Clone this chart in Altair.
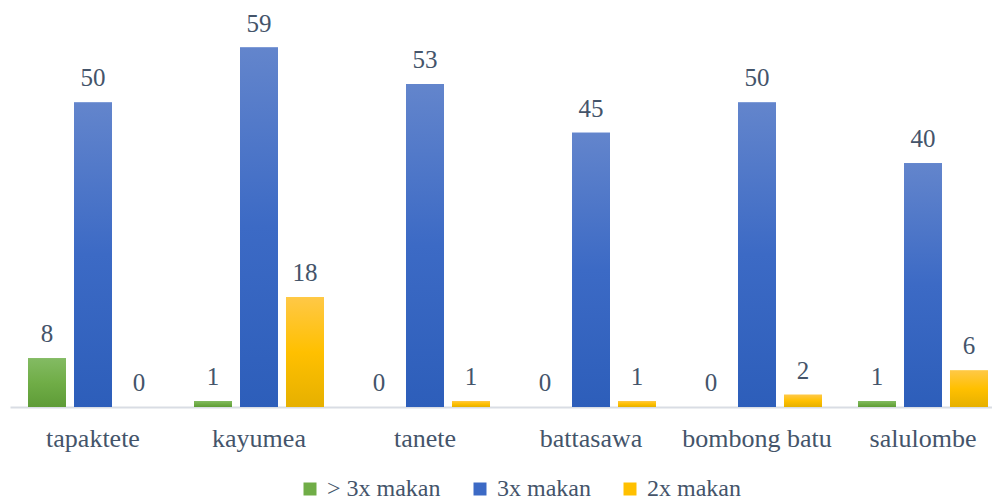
import altair as alt
import pandas as pd

# Villages and meal-frequency counts
villages = ["tapaktete", "kayumea", "tanete", "battasawa", "bombong batu", "salulombe"]
series = ["> 3x makan", "3x makan", "2x makan"]
more_than_three = [8, 1, 0, 0, 0, 1]
three_meals = [50, 59, 53, 45, 50, 40]
two_meals = [0, 18, 1, 1, 2, 6]

rows = []
for name, values in zip(series, [more_than_three, three_meals, two_meals]):
    for v, n in zip(villages, values):
        rows.append({"desa": v, "seri": name, "nilai": n})
df = pd.DataFrame(rows)

FONT = "'Liberation Serif', 'Times New Roman', serif"
TEXT = "#44546A"
solid = ["#70AD47", "#3C6AC5", "#FFC000"]


def grad(top, mid, bottom):
    return alt.LinearGradient(
        gradient="linear", x1=0, y1=0, x2=0, y2=1,
        stops=[alt.GradientStop(color=top, offset=0),
               alt.GradientStop(color=mid, offset=0.5),
               alt.GradientStop(color=bottom, offset=1)],
    )


gradients = [
    grad("#83BB63", "#70AD47", "#5E9C37"),
    grad("#6385CC", "#3C6AC5", "#2D5EBA"),
    grad("#FFC846", "#FFC000", "#E6B000"),
]

x_enc = alt.X(
    "desa:N", sort=villages, title=None,
    scale=alt.Scale(range=[0, 996], paddingInner=0.217, paddingOuter=0.1085),
    axis=alt.Axis(domain=True, domainColor="#D9DDE4", domainWidth=2,
                  ticks=False, grid=False, labelAngle=0,
                  labelFont=FONT, labelFontSize=26, labelColor=TEXT,
                  labelPadding=18),
)
xoff_enc = alt.XOffset("seri:N", sort=series,
                       scale=alt.Scale(domain=series, paddingInner=0.174, paddingOuter=0))
y_enc = alt.Y("nilai:Q", scale=alt.Scale(domain=[0, 65]), axis=None)

base = alt.Chart(df).encode(x=x_enc, xOffset=xoff_enc, y=y_enc)

bars = base.mark_bar().encode(
    color=alt.Color(
        "seri:N", sort=series,
        scale=alt.Scale(domain=series, range=solid),
        legend=alt.Legend(title=None, orient="none", legendX=288, legendY=466,
                          direction="horizontal", symbolType="square",
                          symbolSize=169, symbolStrokeWidth=0,
                          labelFont=FONT, labelFontSize=24, labelColor=TEXT,
                          columnPadding=27, labelOffset=5),
    )
)

grad_layers = [
    base.transform_filter(alt.datum.seri == name).mark_bar(color=g)
    for name, g in zip(series, gradients)
]

labels = base.mark_text(
    font=FONT, fontSize=25, color=TEXT, dy=-16, baseline="alphabetic"
).encode(text="nilai:Q")

chart = alt.layer(bars, *grad_layers, labels).properties(
    width=982, height=396,
    autosize=alt.AutoSizeParams(type="none"),
    padding={"left": 10, "top": 11, "right": 0, "bottom": 94},
).configure_view(stroke=None)

chart.save("out.html", embed_options={"renderer": "svg", "actions": False})
